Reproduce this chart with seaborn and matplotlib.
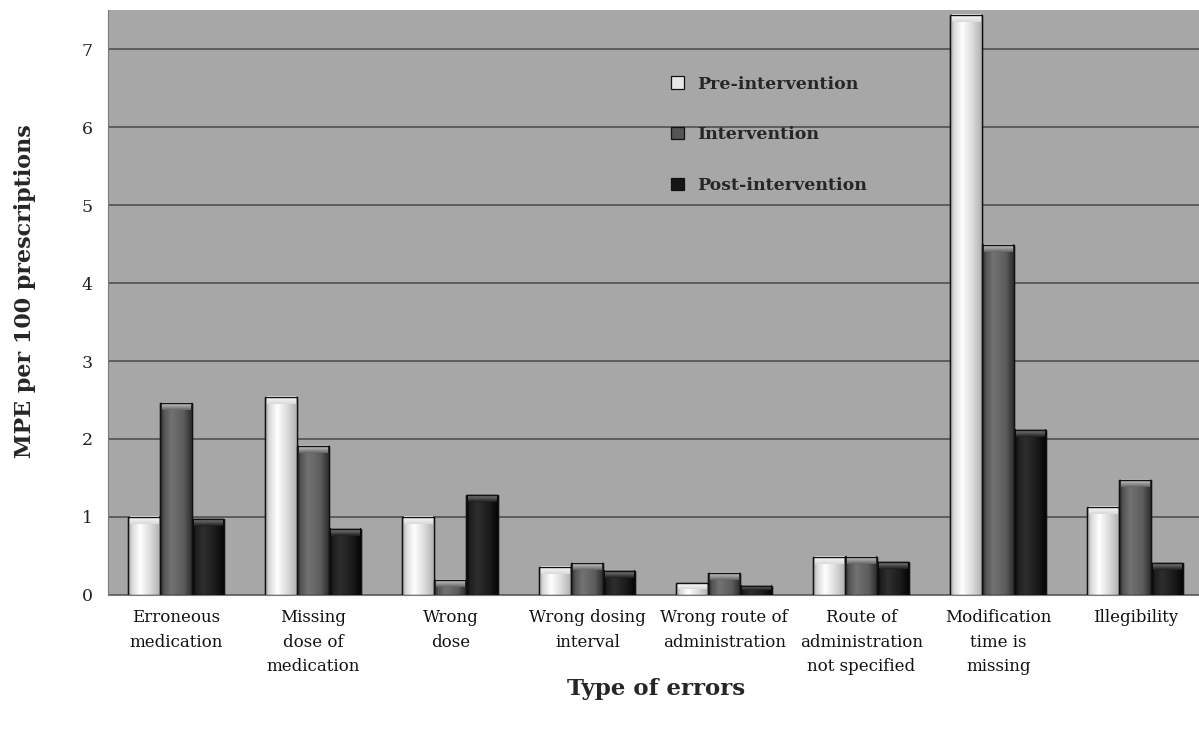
import numpy as np
import pandas as pd
import seaborn as sns
import matplotlib
matplotlib.use("Agg")
import matplotlib.pyplot as plt
from matplotlib.ticker import FixedLocator

categories = ["Erroneous\nmedication", "Missing\ndose of\nmedication", "Wrong\ndose",
              "Wrong dosing\ninterval", "Wrong route of\nadministration",
              "Route of\nadministration\nnot specified", "Modification\ntime is\nmissing",
              "Illegibility"]
periods = ["Pre-intervention", "Intervention", "Post-intervention"]
pre_values = [1.00, 2.54, 1.00, 0.36, 0.15, 0.49, 7.44, 1.13]
int_values = [2.46, 1.91, 0.19, 0.41, 0.28, 0.49, 4.49, 1.47]
post_values = [0.97, 0.85, 1.28, 0.31, 0.12, 0.42, 2.12, 0.41]
y_ticks = [0, 1, 2, 3, 4, 5, 6, 7]

rows = []
for p, vals in zip(periods, [pre_values, int_values, post_values]):
    for c, v in zip(categories, vals):
        rows.append({"category": c, "period": p, "value": v})
df = pd.DataFrame(rows)

sns.set_style("white")
plt.rcParams["font.family"] = ["DejaVu Serif", "Liberation Serif"]

colors = {"Pre-intervention": "#e6e6e6", "Intervention": "#555555", "Post-intervention": "#151515"}
# horizontal shading profile (position, grey level) for each series
shade = {
    "Pre-intervention": ([0, 0.12, 0.38, 0.7, 1], [0.62, 0.85, 1.0, 0.86, 0.70]),
    "Intervention": ([0, 0.12, 0.35, 0.75, 1], [0.15, 0.33, 0.45, 0.36, 0.18]),
    "Post-intervention": ([0, 0.12, 0.35, 0.75, 1], [0.0, 0.12, 0.18, 0.10, 0.02]),
}
cap = {
    "Pre-intervention": (1.0, 0.85),
    "Intervention": (0.85, 0.40),
    "Post-intervention": (0.55, 0.12),
}

fig = plt.figure(figsize=(11.99, 7.29), dpi=100)
ax = fig.add_axes([0.09, 0.184, 0.914, 0.802])
ax.set_facecolor("#a7a7a7")

sns.barplot(data=df, x="category", y="value", hue="period", palette=colors,
            width=0.7, saturation=1, edgecolor="#111111", linewidth=0.9,
            ax=ax, zorder=3)

xs = np.linspace(0, 1, 60)
for cont, p in zip(ax.containers, periods):
    pos, lev = shade[p]
    g = np.interp(xs, pos, lev)
    img = np.repeat(g[None, :, None], 3, axis=2)
    for bar in cont:
        x0, w, h = bar.get_x(), bar.get_width(), bar.get_height()
        ax.imshow(img, extent=[x0, x0 + w, 0, h], aspect="auto", zorder=3.5,
                  interpolation="bilinear")
        ch = min(0.09, h * 0.5)
        cg = np.linspace(cap[p][0], cap[p][1], 20)
        cimg = np.repeat(np.repeat(cg[:, None], 20, axis=1)[:, :, None], 3, axis=2)
        ax.imshow(cimg, extent=[x0 + w * 0.05, x0 + w * 0.95, h - ch, h], aspect="auto",
                  zorder=3.6, interpolation="bilinear")
        ax.add_patch(plt.Rectangle((x0, 0), w, h, fill=False, edgecolor="#111111",
                                   linewidth=1.0, zorder=3.8))

ax.set_xlim(-0.5, len(categories) - 0.5)
ax.set_ylim(0, 7.5)
ax.set_yticks(y_ticks)
ax.yaxis.grid(True, color="#4a4a4a", linewidth=1.1)
ax.set_axisbelow(True)
for s in ["top", "right"]:
    ax.spines[s].set_visible(False)
ax.spines["left"].set_color("#7a7a7a")
ax.spines["bottom"].set_color("#7a7a7a")

ax.tick_params(axis="y", length=5, color="#7a7a7a", labelsize=12.5, labelcolor="#222222", pad=6)
ax.tick_params(axis="x", which="major", length=0, labelsize=12, labelcolor="#111111", pad=10)
ax.xaxis.set_minor_locator(FixedLocator(np.arange(-0.5, len(categories), 1)))
ax.tick_params(axis="x", which="minor", length=5, color="#7a7a7a")
for t in ax.get_xticklabels():
    t.set_linespacing(1.6)
    t.set_verticalalignment("top")

ax.set_xlabel("Type of errors", fontsize=16.5, fontweight="bold", labelpad=2)
ax.set_ylabel("MPE per 100 prescriptions", fontsize=16, fontweight="bold")
ax.yaxis.set_label_coords(-0.066, 0.52)

handles, labels = ax.get_legend_handles_labels()
ax.legend(handles=handles, labels=labels, frameon=False, loc="upper left",
          bbox_to_anchor=(0.5, 0.915), prop={"weight": "bold", "size": 12.5},
          handlelength=0.7, handleheight=0.7, labelspacing=1.95, handletextpad=0.8)

fig.savefig("out.png", dpi=100, facecolor="white")
